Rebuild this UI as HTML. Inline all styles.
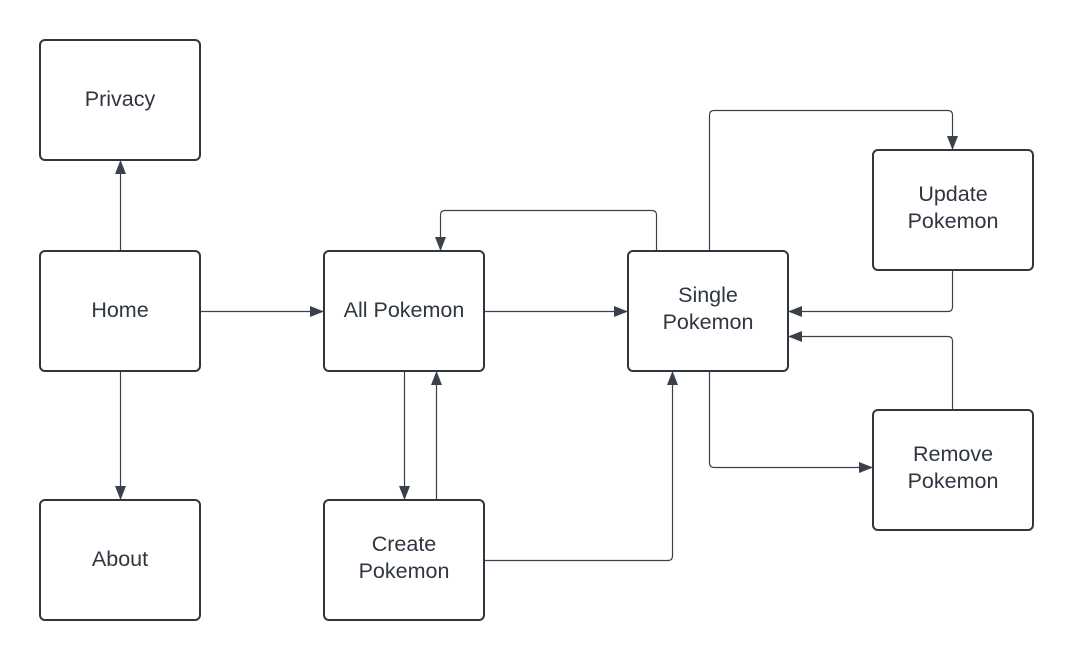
<!DOCTYPE html>
<html><head><style>
body{margin:0;background:#fff;}
svg{display:block}
text{font-family:"Liberation Sans",sans-serif;font-size:21.5px;fill:#2f3640;text-anchor:middle}
</style></head><body>
<svg width="1073" height="660" viewBox="0 0 1073 660">
<defs><marker id="a" markerWidth="14" markerHeight="11" refX="14" refY="5.5" orient="auto" markerUnits="userSpaceOnUse"><path d="M0,0 L14,5.5 L0,11 Z" fill="#3a414b"/></marker></defs>
<g fill="none" stroke="#3a414b" stroke-width="1.2" marker-end="url(#a)">
<path d="M120.5 251 V160"/>
<path d="M120.5 371 V500"/>
<path d="M200 311.5 H324"/>
<path d="M484 311.5 H628"/>
<path d="M656.5 251 V215 Q656.5 210.5 652 210.5 H445 Q440.5 210.5 440.5 215 V251"/>
<path d="M404.5 371 V500"/>
<path d="M436.5 500 V371"/>
<path d="M484 560.5 H668 Q672.5 560.5 672.5 556 V371"/>
<path d="M709.5 251 V115 Q709.5 110.5 714 110.5 H948 Q952.5 110.5 952.5 115 V150"/>
<path d="M952.5 270 V307 Q952.5 311.5 948 311.5 H788"/>
<path d="M952.5 410 V341 Q952.5 336.5 948 336.5 H788"/>
<path d="M709.5 371 V463 Q709.5 467.5 714 467.5 H873"/>
</g>
<g fill="#fff" stroke="#2f3640" stroke-width="2">
<rect x="40" y="40" width="160" height="120" rx="5"/>
<rect x="40" y="251" width="160" height="120" rx="5"/>
<rect x="40" y="500" width="160" height="120" rx="5"/>
<rect x="324" y="251" width="160" height="120" rx="5"/>
<rect x="324" y="500" width="160" height="120" rx="5"/>
<rect x="628" y="251" width="160" height="120" rx="5"/>
<rect x="873" y="150" width="160" height="120" rx="5"/>
<rect x="873" y="410" width="160" height="120" rx="5"/>
</g>
<text x="120" y="106">Privacy</text>
<text x="120" y="317">Home</text>
<text x="120" y="566">About</text>
<text x="404" y="317">All Pokemon</text>
<text x="404" y="551">Create</text><text x="404" y="578">Pokemon</text>
<text x="708" y="302">Single</text><text x="708" y="329">Pokemon</text>
<text x="953" y="201">Update</text><text x="953" y="228">Pokemon</text>
<text x="953" y="461">Remove</text><text x="953" y="488">Pokemon</text>
</svg>
</body></html>
